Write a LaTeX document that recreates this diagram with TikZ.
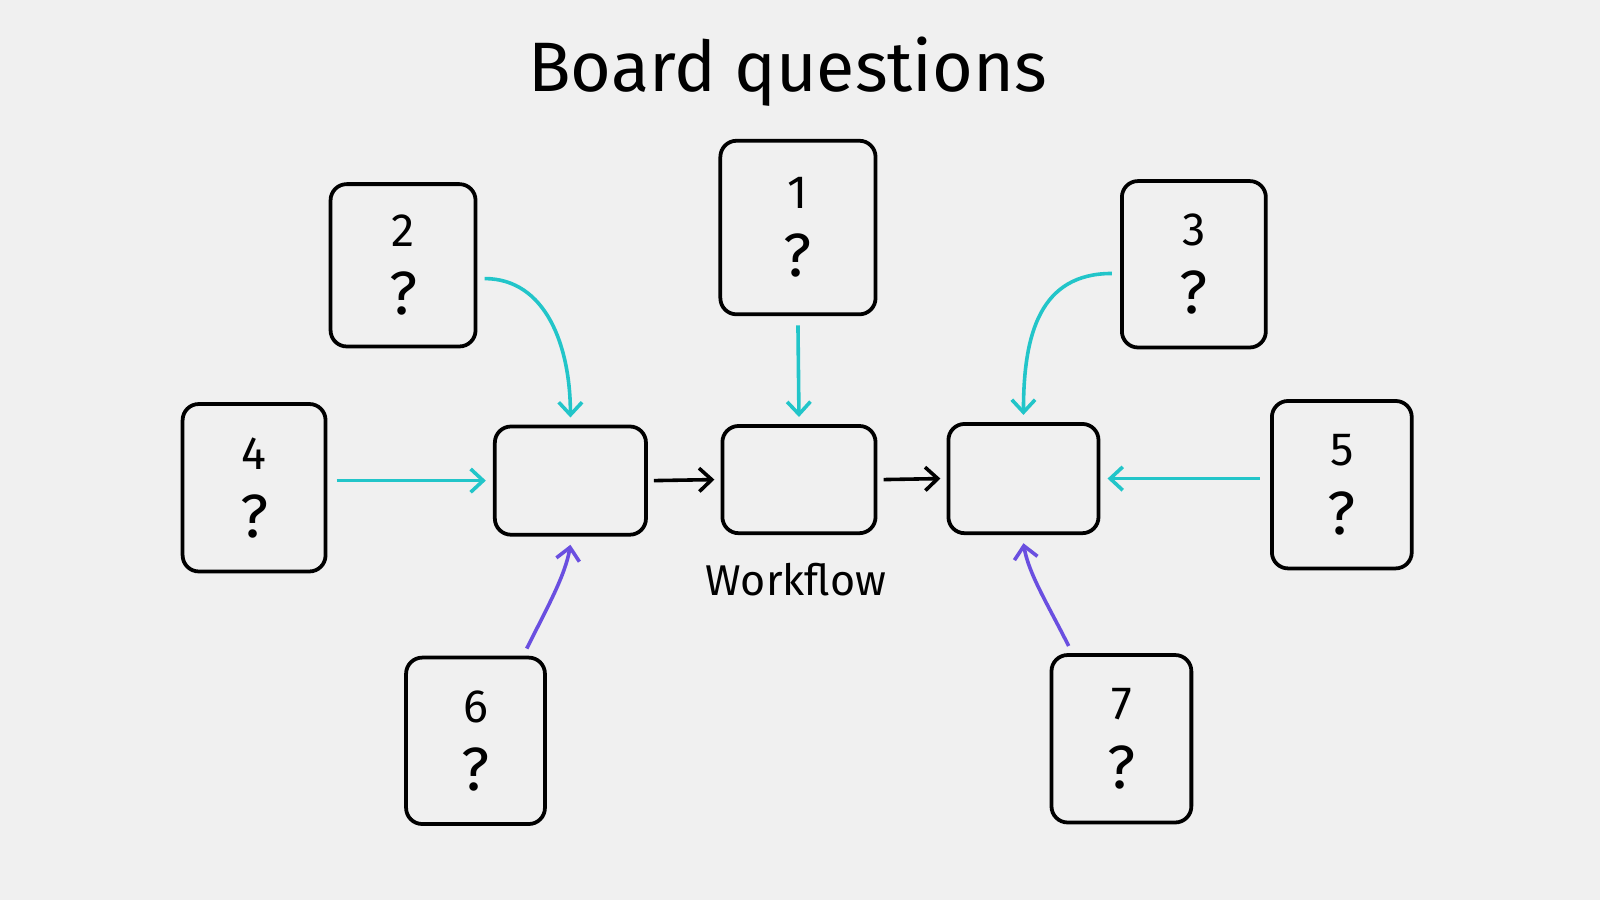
\documentclass[tikz,border=0pt]{standalone}
\usepackage{fontspec}
\setmainfont{Fira Sans}
\usetikzlibrary{arrows.meta}
\definecolor{bg}{HTML}{F0F0F0}
\definecolor{cy}{HTML}{22C5C9}
\definecolor{pu}{HTML}{6A4FE0}
\newcommand{\qm}{{\fontsize{17}{19}\selectfont ?}}
\begin{document}
\begin{tikzpicture}[x=0.01cm,y=-0.01cm,
 box/.style={draw=black,line width=1.05pt,rounded corners=4.5pt,inner sep=0pt},
 q/.style={box,align=center,font=\fontsize{13}{19}\selectfont},
 ar/.style={line width=1pt,-{Straight Barb[length=3.5pt,width=6.5pt]}},
 ca/.style={ar,cy}, pa/.style={ar,pu}]
\fill[bg] (0,0) rectangle (1568,882);
\useasboundingbox (0,0) rectangle (1568,882);
\node[font=\fontsize{19.5}{24}\selectfont] (title) at (772,70) {Board questions};
\node[q,minimum width=1.52cm,minimum height=1.70cm] (q1) at (782,223) {1\\\qm};
\node[q,minimum width=1.42cm,minimum height=1.59cm] (q2) at (395,260) {2\\\qm};
\node[q,minimum width=1.41cm,minimum height=1.63cm] (q3) at (1170,259) {3\\\qm};
\node[q,minimum width=1.40cm,minimum height=1.64cm] (q4) at (249,478) {4\\\qm};
\node[q,minimum width=1.37cm,minimum height=1.64cm] (q5) at (1315,475) {5\\\qm};
\node[q,minimum width=1.36cm,minimum height=1.63cm] (q6) at (466,726) {6\\\qm};
\node[q,minimum width=1.37cm,minimum height=1.64cm] (q7) at (1099,724) {7\\\qm};
\node[box,minimum width=1.48cm,minimum height=1.06cm] (w1) at (559,471) {};
\node[box,minimum width=1.50cm,minimum height=1.05cm] (w2) at (783,470) {};
\node[box,minimum width=1.47cm,minimum height=1.07cm] (w3) at (1003,469) {};
\node[font=\fontsize{12}{15}\selectfont] (wf) at (780,568) {Workflow};
\draw[ca] ([xshift=0.07cm,yshift=-0.13cm]q2.east) .. controls +(60,0) and +(0,-70) .. ([yshift=0.07cm]w1.north);
\draw[ca] ([yshift=-0.09cm]q1.south) -- ([yshift=0.07cm]w2.north);
\draw[ca] ([xshift=-0.08cm,yshift=-0.09cm]q3.west) .. controls +(-70,0) and +(0,-80) .. ([yshift=0.07cm]w3.north);
\draw[ca] ([xshift=0.09cm]q4.east |- w1.west) -- ([xshift=-0.07cm]w1.west);
\draw[ca] ([xshift=-0.1cm]q5.west |- w3.east) -- ([xshift=0.07cm]w3.east);
\draw[pa] ([xshift=1.2cm,yshift=0.07cm]q6.north west) .. controls +(20,-40) and +(-5,30) .. ([yshift=-0.08cm]w1.south);
\draw[pa] ([xshift=-1.22cm,yshift=0.07cm]q7.north east) .. controls +(-20,-40) and +(5,30) .. ([yshift=-0.08cm]w3.south);
\draw[ar] ([xshift=0.06cm]w1.east) -- ([xshift=-0.06cm]w2.west);
\draw[ar] ([xshift=0.06cm]w2.east) -- ([xshift=-0.06cm]w3.west);
\end{tikzpicture}
\end{document}
